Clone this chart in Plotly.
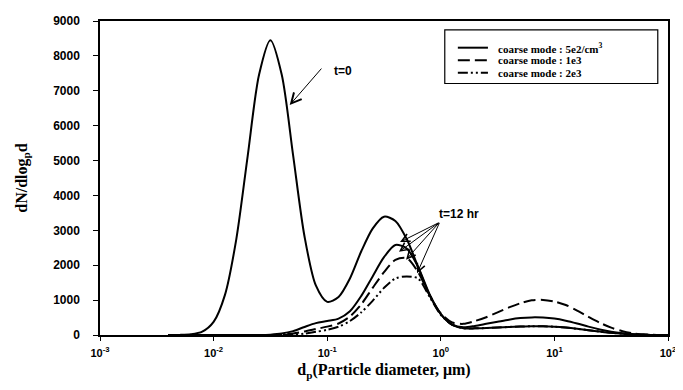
import plotly.graph_objects as go

# log10 of particle diameter (um) at which the curves were read
log_dp = [-2.4, -2.3, -2.2, -2.1, -2.0, -1.9, -1.8, -1.7, -1.6, -1.5,
          -1.4, -1.3, -1.2, -1.1, -1.0, -0.9, -0.8, -0.7, -0.6, -0.5,
          -0.4, -0.3, -0.2, -0.1, 0.0, 0.1, 0.2, 0.3, 0.4, 0.5,
          0.6, 0.7, 0.8, 0.9, 1.0, 1.1, 1.2, 1.3, 1.4, 1.5,
          1.6, 1.7, 1.8, 1.9, 2.0]

t0_vals = [0, 3, 20, 95, 375, 1150, 2750, 5130, 7460, 8450,
           7460, 5150, 2830, 1420, 950, 1090, 1620, 2400, 3050, 3390,
           3270, 2750, 1950, 1150, 600, 300, 195, 190, 200, 215,
           230, 242, 250, 248, 236, 212, 178, 138, 98, 62,
           35, 15, 5, 0, 0]

t12_5e2 = [0, 0, 0, 0, 0, 0, 0, 0, 0, 10,
           40, 110, 230, 340, 400, 470, 680, 1120, 1680, 2230,
           2580, 2480, 1950, 1180, 600, 300, 220, 260, 320, 380,
           440, 485, 505, 500, 470, 410, 330, 240, 160, 95,
           50, 20, 7, 0, 0]

t12_1e3 = [0, 0, 0, 0, 0, 0, 0, 0, 0, 0,
           10, 40, 100, 170, 240, 330, 530, 880, 1350, 1800,
           2150, 2200, 1800, 1150, 620, 360, 320, 400, 510, 650,
           790, 910, 995, 1005, 960, 860, 700, 520, 350, 210,
           110, 45, 15, 3, 0]

t12_2e3 = [0, 0, 0, 0, 0, 0, 0, 0, 0, 0,
           0, 10, 40, 90, 150, 240, 400, 650, 980, 1350,
           1620, 1680, 1620, 1100, 580, 290, 195, 190, 200, 215,
           230, 242, 250, 248, 236, 212, 178, 138, 98, 62,
           35, 15, 5, 0, 0]

series_names = ["coarse mode : 5e2/cm<sup>3</sup>", "coarse mode : 1e3", "coarse mode : 2e3"]
series_dash = ["solid", "12px,5px", "10px,3px,2px,3px,2px,3px"]

x_tickvals = [0.001, 0.01, 0.1, 1, 10, 100]
x_ticktext = ["10<sup>-3</sup>", "10<sup>-2</sup>", "10<sup>-1</sup>", "10<sup>0</sup>",
              "10<sup>1</sup>", "10<sup>2</sup>"]
y_tickvals = [0, 1000, 2000, 3000, 4000, 5000, 6000, 7000, 8000, 9000]

dp = [10 ** v for v in log_dp]

fig = go.Figure()
line_common = dict(color="black", width=2, shape="spline", smoothing=0.8)

fig.add_trace(go.Scatter(x=dp, y=t0_vals, mode="lines", name="t=0", showlegend=False,
                         line=dict(**line_common, dash="solid")))
for vals, name, dash in zip([t12_5e2, t12_1e3, t12_2e3], series_names, series_dash):
    fig.add_trace(go.Scatter(x=dp, y=vals, mode="lines", name=name, showlegend=False,
                             line=dict(**line_common, dash=dash)))

serif = "Liberation Serif, Times New Roman, serif"
sans = "Liberation Sans, Arial, sans-serif"

fig.update_layout(
    width=683, height=390,
    margin=dict(l=92, r=23, t=6, b=63),
    paper_bgcolor="white", plot_bgcolor="white",
    font=dict(family=sans, color="black", size=11),
    showlegend=False,
)

fig.update_xaxes(type="log", range=[-3, 2], tickvals=x_tickvals, ticktext=x_ticktext,
                 ticks="outside", ticklen=4, tickwidth=1.2, tickcolor="black",
                 showline=True, linecolor="black", linewidth=1.5, mirror=True,
                 showgrid=False, zeroline=False, ticklabelstandoff=3,
                 tickfont=dict(family=sans, size=11, color="black", weight="bold"),
                 title=dict(text="d<sub>p</sub>(Particle diameter, \u03bcm)",
                            font=dict(family=serif, size=16, color="black", weight="bold"),
                            standoff=6))
fig.update_yaxes(range=[0, 9000], tickvals=y_tickvals,
                 ticks="outside", ticklen=5, tickwidth=1.2, tickcolor="black",
                 showline=True, linecolor="black", linewidth=1.5, mirror=True,
                 showgrid=False, zeroline=False, ticklabelstandoff=11,
                 tickfont=dict(family=sans, size=12, color="black", weight="bold"),
                 title=dict(text="dN/dlog<sub>p</sub>d",
                            font=dict(family=serif, size=16, color="black", weight="bold"),
                            standoff=22))

# legend frame, line samples and labels (drawn by hand to match the compact legend)
fig.add_shape(type="rect", xref="paper", yref="paper",
              x0=0.607, x1=0.982, y0=0.801, y1=0.972,
              line=dict(color="black", width=1.2), fillcolor="rgba(0,0,0,0)")
legend_rows_y = [0.915, 0.875, 0.835]
for yy, name, dash in zip(legend_rows_y, series_names, series_dash):
    fig.add_shape(type="line", xref="paper", yref="paper",
                  x0=0.630, x1=0.683, y0=yy, y1=yy,
                  line=dict(color="black", width=2, dash=dash))
    fig.add_annotation(x=0.697, y=yy, xref="paper", yref="paper", text=name,
                       showarrow=False, xanchor="left", yanchor="middle",
                       font=dict(family=serif, size=11, color="black", weight="bold"))

# t=0 label and arrow
fig.add_annotation(x=-1.33, y=6590, xref="x", yref="y", text="", showarrow=True,
                   axref="pixel", ayref="pixel", ax=33, ay=-38,
                   arrowhead=5, arrowsize=2, arrowwidth=1, arrowcolor="black")
fig.add_annotation(x=0.428, y=0.87, xref="paper", yref="paper", text="<b>t=0</b>",
                   showarrow=False, font=dict(family=sans, size=12, color="black"))

# t=12 hr label and arrows
tips = [(-0.359, 2664, 40, -20), (-0.368, 2383, 41, -30),
        (-0.306, 2159, 34, -38), (-0.209, 1767, 23, -52)]
for tx, ty, axp, ayp in tips:
    fig.add_annotation(x=tx, y=ty, xref="x", yref="y", text="", showarrow=True,
                       axref="pixel", ayref="pixel", ax=axp, ay=ayp,
                       arrowhead=5, arrowsize=1.6, arrowwidth=1, arrowcolor="black")
fig.add_annotation(x=0.671, y=0.385, xref="paper", yref="paper", text="<b>t=12 hr</b>",
                   showarrow=False, font=dict(family=sans, size=12, color="black"))

fig.write_html("out.html")
